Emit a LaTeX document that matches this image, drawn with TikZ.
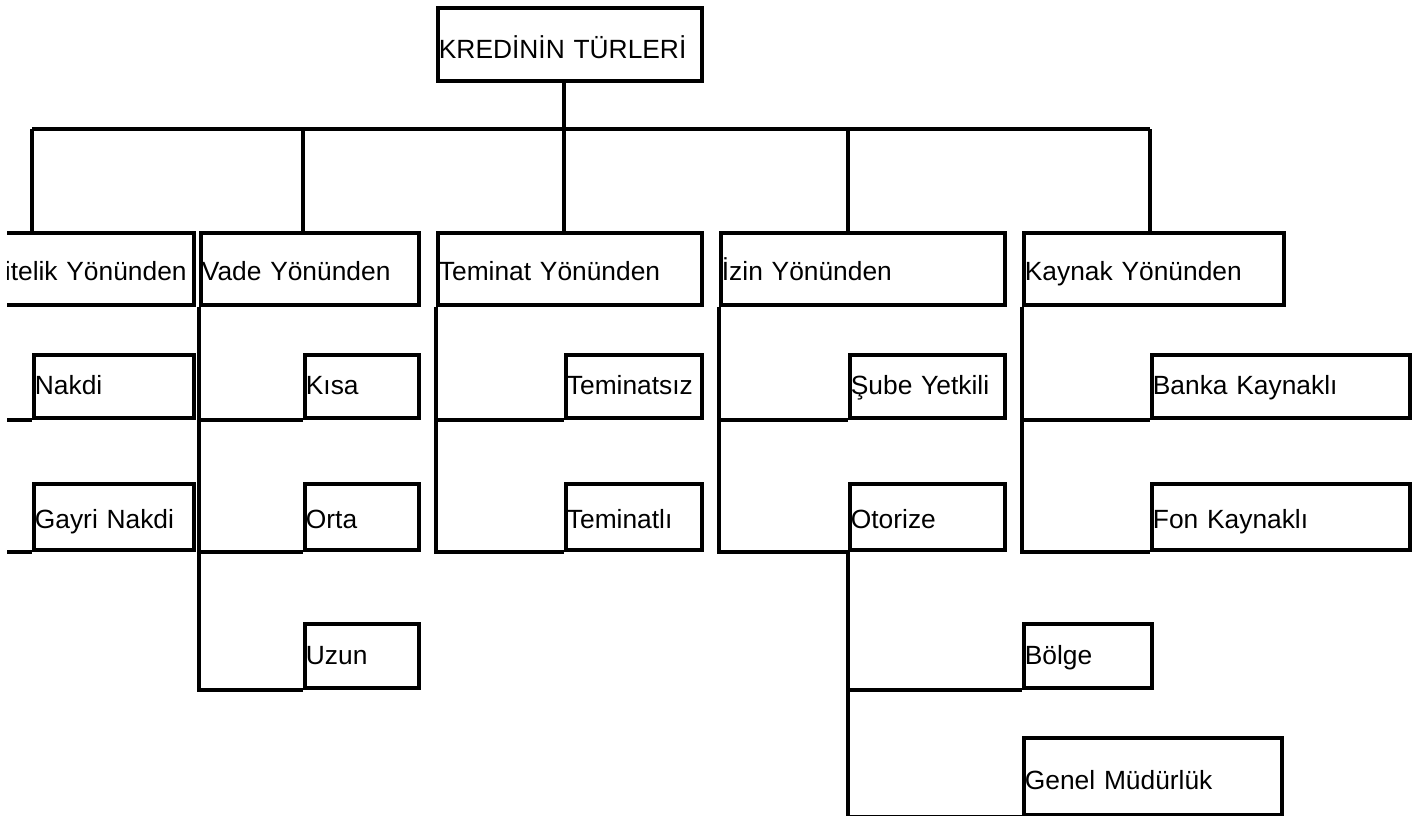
\documentclass[tikz,border=0pt]{standalone}
\usepackage{fontspec}
\setmainfont{Liberation Sans}
\begin{document}
\begin{tikzpicture}[x=0.02cm,y=-0.02cm,
  hat/.style={line width=0.076cm},
  kutu/.style={draw, line width=0.076cm, anchor=north west, align=left,
    inner xsep=0.02cm, inner ysep=0pt, font=\fontsize{15}{18}\selectfont},
  ust/.style={text height=1.02cm, text depth=0.44cm},
  bir/.style={text height=0.96cm, text depth=0.48cm},
  iki/.style={text height=0.80cm, text depth=0.46cm},
  uc/.style={text height=0.90cm, text depth=0.42cm},
  dort/.style={text height=0.82cm, text depth=0.46cm},
  bes/.style={text height=1.04cm, text depth=0.50cm}]
  \useasboundingbox (0,0) rectangle (1415,815);
  \clip (7,0) rectangle (1415,815);

  \coordinate (bus) at (0,129);

  \node[kutu, ust, text width=5.24cm] (kok) at (436,6) {KREDİNİN TÜRLERİ};

  \node[kutu, bir, text width=4.14cm] (nitelik) at (-17,231) {Nitelik Yönünden};
  \node[kutu, bir, text width=4.32cm] (vade) at (199,231) {Vade Yönünden};
  \node[kutu, bir, text width=5.24cm] (teminat) at (436,231) {Teminat Yönünden};
  \node[kutu, bir, text width=5.64cm] (izin) at (719,231) {İzin Yönünden};
  \node[kutu, bir, text width=5.16cm] (kaynak) at (1022,231) {Kaynak Yönünden};

  \node[kutu, iki, text width=3.16cm] (nakdi) at (32,353) {Nakdi};
  \node[kutu, iki, text width=2.24cm] (kisa) at (303,353) {Kısa};
  \node[kutu, iki, text width=2.68cm] (teminatsiz) at (564,353) {Teminatsız};
  \node[kutu, iki, text width=3.06cm] (sube) at (848,353) {Şube Yetkili};
  \node[kutu, iki, text width=5.12cm] (banka) at (1150,353) {Banka Kaynaklı};

  \node[kutu, uc, text width=3.16cm] (gayri) at (32,482) {Gayri Nakdi};
  \node[kutu, uc, text width=2.24cm] (orta) at (303,482) {Orta};
  \node[kutu, uc, text width=2.68cm] (teminatli) at (564,482) {Teminatlı};
  \node[kutu, uc, text width=3.06cm] (otorize) at (848,482) {Otorize};
  \node[kutu, uc, text width=5.12cm] (fon) at (1150,482) {Fon Kaynaklı};

  \node[kutu, dort, text width=2.24cm] (uzun) at (303,622) {Uzun};
  \node[kutu, dort, text width=2.52cm] (bolge) at (1022,622) {Bölge};

  \node[kutu, bes, text width=5.12cm] (genel) at (1022,736) {Genel Müdürlük};

  % ana hat
  \draw[hat] (teminatsiz.south west |- kok.south) -- (teminatsiz.south west |- teminat.north);
  \draw[hat] (nakdi.south west |- bus) -- (banka.south west |- bus);
  \foreach \c/\p in {nakdi/nitelik, kisa/vade, sube/izin, banka/kaynak}
    \draw[hat] (\c.south west |- bus) -- (\c.south west |- \p.north);

  % alt dallar
  \foreach \p/\c in {nitelik/nakdi, nitelik/gayri, vade/kisa, vade/orta, vade/uzun,
      teminat/teminatsiz, teminat/teminatli, izin/sube, izin/otorize,
      kaynak/banka, kaynak/fon, otorize/bolge, otorize/genel}
    \draw[hat] (\p.south west) |- (\c.south west);
\end{tikzpicture}
\end{document}
